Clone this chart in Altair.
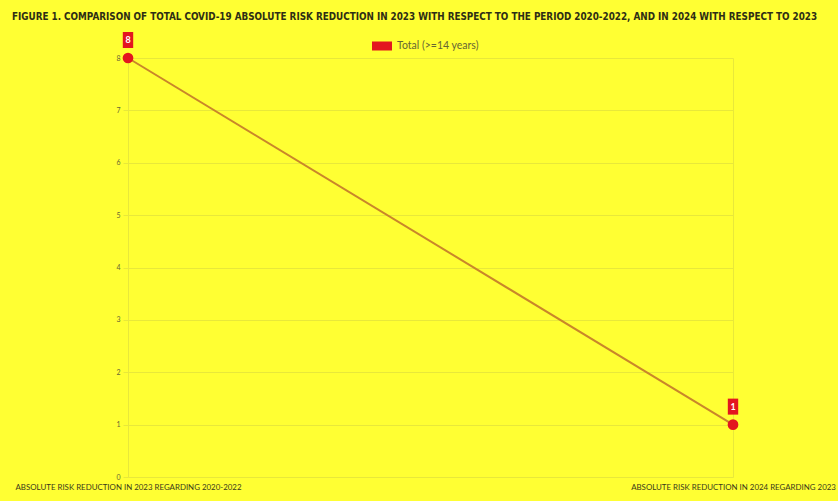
import altair as alt
import pandas as pd

categories = [
    "ABSOLUTE RISK REDUCTION IN 2023 REGARDING 2020-2022",
    "ABSOLUTE RISK REDUCTION IN 2024 REGARDING 2023",
]
values = [8, 1]
series_name = ["Total (>=14 years)", "Total (>=14 years)"]
labels = ["8", "1"]

title_text = ("FIGURE 1. COMPARISON OF TOTAL COVID-19 ABSOLUTE RISK REDUCTION IN 2023 WITH RESPECT "
              "TO THE PERIOD 2020-2022, AND IN 2024 WITH RESPECT TO 2023")

df = pd.DataFrame({"cat": categories, "val": values, "series": series_name, "lbl": labels})

BG = "#ffff33"
RED = "#e3161f"
LINE = "#c9862a"
GRID = "#e8e83a"

x = alt.X("cat:N", sort=categories, title=None,
          scale=alt.Scale(type="point", padding=0),
          axis=alt.Axis(labelAngle=0, labelFontSize=7.9, labelColor="#3a3a1a",
                        labelFont="Lato", labelPadding=6, ticks=False, domain=False,
                        grid=True, gridColor=GRID, labelOverlap=False, labelFlush=False,
                        labelLimit=0))
y = alt.Y("val:Q", title=None,
          scale=alt.Scale(domain=[0, 8], nice=False),
          axis=alt.Axis(values=list(range(9)), labelFontSize=7, labelColor="#666633",
                        labelFont="Lato", tickSize=5, tickColor=GRID, domainColor=GRID,
                        gridColor=GRID, labelPadding=3))

base = alt.Chart(df)

line = base.mark_line(color=LINE, strokeWidth=2).encode(x=x, y=y)

pts = base.mark_circle(size=115, opacity=1).encode(
    x=x, y=y,
    color=alt.Color("series:N", title=None,
                    scale=alt.Scale(range=[RED]),
                    legend=alt.Legend(orient="none", legendX=244, legendY=-22,
                                      direction="horizontal",
                                      symbolType="M-1,-0.45L1,-0.45L1,0.45L-1,0.45Z",
                                      symbolSize=400, symbolFillColor=RED,
                                      symbolStrokeColor=RED, symbolStrokeWidth=0,
                                      labelFontSize=10.5, labelColor="#666633",
                                      labelFont="Lato", labelOffset=5, symbolOffset=0)),
)

box = base.mark_point(
    shape="M-0.65,-1L0.65,-1L0.65,1L-0.65,1Z",
    filled=True, color=RED, size=256, opacity=1, yOffset=-18,
).encode(x=x, y=y)

txt = base.mark_text(color="white", fontSize=9, fontWeight="bold", font="Lato",
                     yOffset=-18, baseline="middle").encode(x=x, y=y, text="lbl:N")

chart = alt.layer(line, pts, box, txt).properties(
    width=605, height=419,
    background=BG,
    padding={"left": 128, "top": 58, "right": 105, "bottom": 24},
    autosize=alt.AutoSizeParams(type="none"),
    title=alt.Title(title_text, anchor="start", frame="group", dx=-116, offset=10,
                    font="Liberation Sans Narrow, DejaVu Sans Condensed", fontSize=9.8,
                    fontWeight="bold", color="#2e2e14"),
).configure_view(stroke=None)

chart.save("out.html", embed_options={"renderer": "svg", "actions": False})
